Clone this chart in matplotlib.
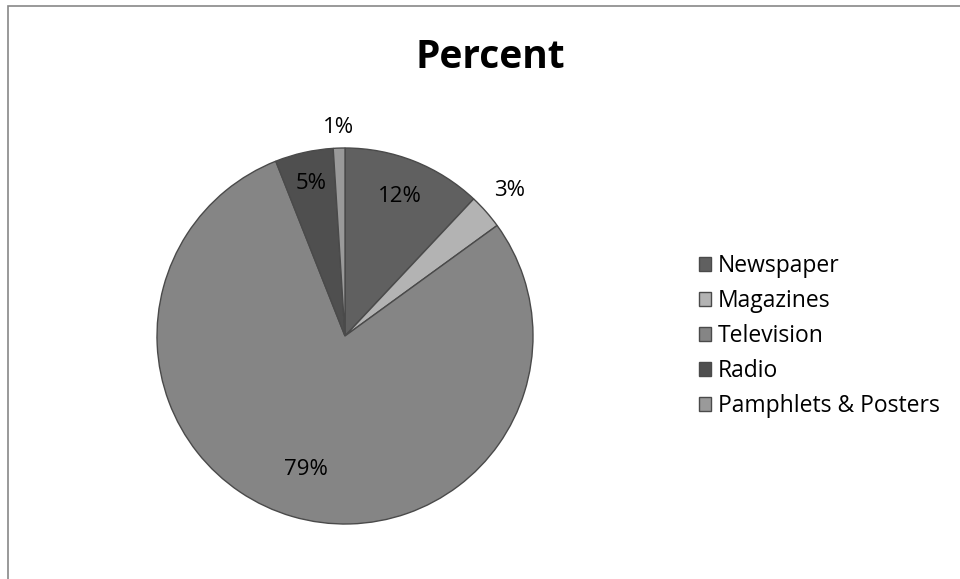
import numpy as np
import matplotlib.pyplot as plt
from matplotlib.patches import Rectangle

plt.rcParams['font.family'] = ['Open Sans', 'DejaVu Sans']

categories = ['Newspaper', 'Magazines', 'Television', 'Radio', 'Pamphlets & Posters']
percent = [12, 3, 79, 5, 1]
colors = ['#606060', '#b3b3b3', '#858585', '#4f4f4f', '#9a9a9a']
label_dist = [0.8, 1.17, 0.74, 0.83, 1.11]  # where Excel put each label

fig = plt.figure(figsize=(9.6, 5.79), dpi=100)

# chart area border
fig.patches.append(Rectangle((8 / 960, -0.1), 1.2, 1 - 6 / 579 + 0.1, transform=fig.transFigure,
                             fill=False, edgecolor='#878787', linewidth=1.2))

ax = fig.add_axes([(345 - 188) / 960, (579 - 336 - 188) / 579, 376 / 960, 376 / 579])
wedges, _ = ax.pie(percent, colors=colors, startangle=90, counterclock=False,
                   wedgeprops=dict(edgecolor='#4a4a4a', linewidth=1.0), radius=1)
ax.set_xlim(-1, 1)
ax.set_ylim(-1, 1)
ax.set_aspect('auto')

for w, p, d in zip(wedges, percent, label_dist):
    mid = np.deg2rad((w.theta1 + w.theta2) / 2)
    ax.text(d * np.cos(mid), d * np.sin(mid), f'{p}%', ha='center', va='center',
            fontsize=16, color='black')

fig.text(490 / 960, 1 - 57 / 579, 'Percent', ha='center', va='center',
         fontsize=28, fontweight='bold')

fig.legend(wedges, categories, loc='center left', bbox_to_anchor=(678 / 960, 1 - 336 / 579),
           frameon=False, fontsize=16.5, handlelength=0.55, handleheight=0.55,
           handletextpad=0.3, labelspacing=0.48)

fig.savefig('out.png', dpi=100)
